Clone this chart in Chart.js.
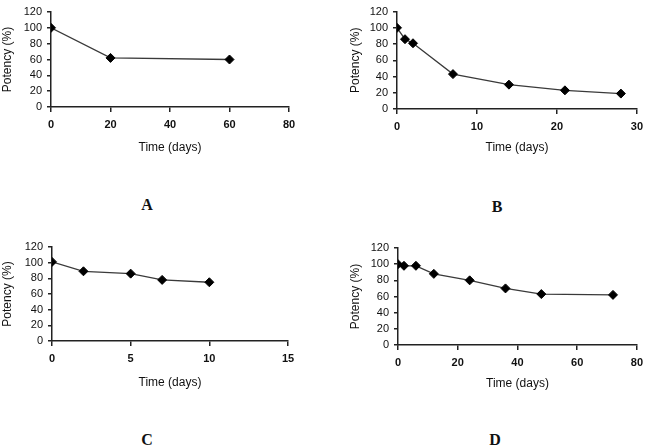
<!DOCTYPE html>
<html>
<head>
<meta charset="utf-8">
<script src="https://cdn.jsdelivr.net/npm/chart.js@4/dist/chart.umd.min.js"></script>
<style>
  body { margin: 0; background: #fff; width: 649px; height: 447px; position: relative; overflow: hidden; }
  .panel { position: absolute; }
  .tag { position: absolute; font: bold 16px 'Liberation Serif', 'DejaVu Serif', serif; color: #111; transform: translate(-50%, -50%); }
</style>
</head>
<body>
<div class="panel" style="left:0;top:0;width:320px;height:160px"><canvas id="chart-a"></canvas></div>
<div class="panel" style="left:320px;top:0;width:329px;height:160px"><canvas id="chart-b"></canvas></div>
<div class="panel" style="left:0;top:220px;width:320px;height:175px"><canvas id="chart-c"></canvas></div>
<div class="panel" style="left:320px;top:220px;width:329px;height:176px"><canvas id="chart-d"></canvas></div>
<div class="tag" style="left:147px;top:205px">A</div>
<div class="tag" style="left:497px;top:207px">B</div>
<div class="tag" style="left:147px;top:440px">C</div>
<div class="tag" style="left:495px;top:440px">D</div>
<script>
// Potency over time, one series per panel
const daysA = [0, 20, 60];
const potencyA = [100, 62, 60];

const daysB = [0, 1, 2, 7, 14, 21, 28];
const potencyB = [100, 86, 81, 43, 30, 23, 19];

const daysC = [0, 2, 5, 7, 10];
const potencyC = [101, 89, 86, 78, 75];

const daysD = [0, 2, 6, 12, 24, 36, 48, 72];
const potencyD = [100, 98, 98, 88, 80, 70, 63, 62];

const yTicks = [0, 20, 40, 60, 80, 100, 120];

Chart.defaults.font.family = "'Liberation Sans', Arial, sans-serif";
Chart.defaults.color = '#111';

const axisColor = '#222';

function makePanel(id, days, potency, xMax, xStep, geo) {
  const ctx = document.getElementById(id).getContext('2d');
  return new Chart(ctx, {
    type: 'scatter',
    data: {
      datasets: [{
        data: days.map((d, i) => ({ x: d, y: potency[i] })),
        showLine: true,
        borderColor: '#3a3a3a',
        borderWidth: 1.3,
        pointStyle: 'rectRot',
        pointRadius: 4.5,
        pointBackgroundColor: '#000',
        pointBorderColor: '#000',
        pointBorderWidth: 1,
      }],
    },
    options: {
      responsive: true,
      maintainAspectRatio: false,
      animation: false,
      devicePixelRatio: 1,
      layout: {
        padding: { left: geo.padLeft, top: geo.padTop, right: geo.padRight, bottom: 0 },
      },
      plugins: {
        legend: { display: false },
        tooltip: { enabled: false },
      },
      scales: {
        x: {
          type: 'linear',
          min: 0,
          max: xMax,
          afterFit: (s) => { s.height = geo.xHeight; },
          ticks: { stepSize: xStep, padding: 6, autoSkip: false, font: { size: 11, weight: 'bold' } },
          grid: { display: true, drawOnChartArea: false, drawTicks: true, tickLength: 5, color: axisColor, lineWidth: 1.5 },
          border: { display: true, color: axisColor, width: 1.5 },
          title: { display: true, text: 'Time (days)', font: { size: 12 }, padding: { top: 0, bottom: 5 } },
        },
        y: {
          min: 0,
          max: 120,
          afterFit: (s) => { s.width = geo.yWidth; },
          afterBuildTicks: (s) => { s.ticks = yTicks.map(v => ({ value: v })); },
          ticks: { padding: 5, autoSkip: false, font: { size: 11 } },
          grid: { display: true, drawOnChartArea: false, drawTicks: true, tickLength: 4, color: axisColor, lineWidth: 1.5 },
          border: { display: true, color: axisColor, width: 1.5 },
          title: { display: true, text: 'Potency (%)', font: { size: 12 }, padding: { top: 0, bottom: 0 } },
        },
      },
    },
  });
}

makePanel('chart-a', daysA, potencyA, 80, 20, { padLeft: 0, yWidth: 51, padTop: 12, padRight: 31, xHeight: 53 });
makePanel('chart-b', daysB, potencyB, 30, 10, { padLeft: 28, yWidth: 49, padTop: 10, padRight: 9, xHeight: 51 });
makePanel('chart-c', daysC, potencyC, 15, 5, { padLeft: 0, yWidth: 52, padTop: 27, padRight: 32, xHeight: 54 });
makePanel('chart-d', daysD, potencyD, 80, 20, { padLeft: 28, yWidth: 50, padTop: 28, padRight: 9, xHeight: 51 });
</script>
</body>
</html>
